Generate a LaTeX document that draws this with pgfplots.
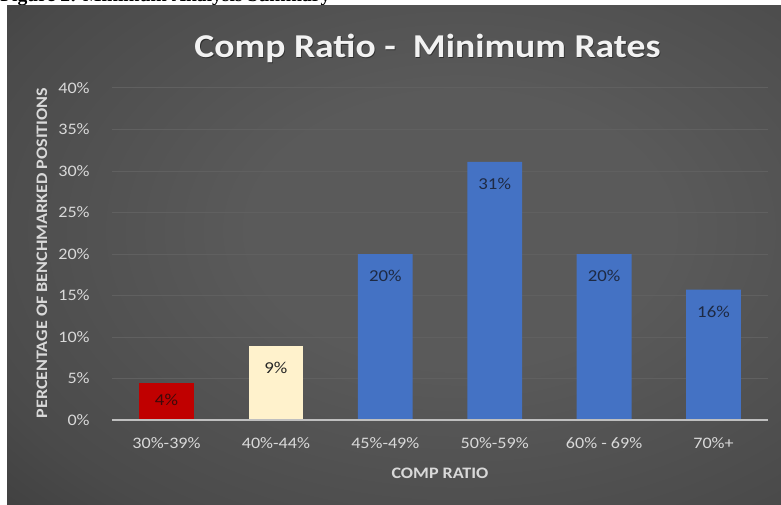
\documentclass[border=0pt]{standalone}
\usepackage{pgfplots}
\pgfplotsset{compat=1.18}
\usepackage{fontspec}
\setmainfont{Carlito}
\newfontfamily\serifb{Liberation Serif}
\definecolor{bgc}{HTML}{5A5A5A}
\definecolor{bgm}{HTML}{4A4A4A}
\definecolor{bge}{HTML}{262626}
\definecolor{gridc}{HTML}{606060}
\definecolor{zeroc}{HTML}{BFBFBF}
\definecolor{tickc}{HTML}{D9D9D9}
\definecolor{labc}{HTML}{D9D9D9}
\definecolor{titlec}{HTML}{F2F2F2}
\definecolor{redc}{HTML}{C00000}
\definecolor{creamc}{HTML}{FFF2CC}
\definecolor{bluec}{HTML}{4472C4}
\definecolor{redlab}{HTML}{3D0A0A}
\definecolor{creamlab}{HTML}{262626}
\definecolor{bluelab}{HTML}{1E2A44}
\pgfdeclareradialshading{bgshade}{\pgfpoint{0bp}{0bp}}{color(0bp)=(bgc); color(10bp)=(bgc); color(25bp)=(bgm); color(45bp)=(bge); color(50bp)=(bge)}
\begin{document}
\begin{tikzpicture}
\useasboundingbox (0,0) rectangle (585.75pt,378pt);
\begin{scope}[x=0.75pt,y=0.75pt]
\node[anchor=base west, inner sep=0, font=\serifb\bfseries\fontsize{14.7}{16}\selectfont] at (0,502.5) {Figure 2: Minimum Analysis Summary};
\begin{scope}
\clip (7,0) rectangle (781,498);
\shade[shading=bgshade] (-60,-66) rectangle (980,614);
\end{scope}
\end{scope}
\begin{axis}[
  at={(83.85pt,63pt)}, anchor=south west,
  scale only axis, width=492.3pt, height=249pt,
  xmin=-0.5, xmax=5.5, ymin=0, ymax=40,
  axis line style={draw=none},
  major tick length=0pt,
  /pgf/number format/assume math mode=true,
  ytick={0,5,...,40},
  yticklabel={\pgfmathprintnumber{\tick}\%},
  xtick={0,1,2,3,4,5},
  xticklabels={30\%-39\%, 40\%-44\%, 45\%-49\%, 50\%-59\%, 60\% - 69\%, 70\%+},
  ymajorgrids, grid style={draw=gridc, line width=0.75pt},
  tick label style={font=\fontsize{12}{14}\selectfont, text=tickc, xscale=1.13, inner sep=0pt},
  yticklabel style={anchor=east, xshift=-14.5pt},
  xticklabel style={anchor=north, yshift=-13pt},
  ybar, bar width=41.1pt, bar shift=0pt,
  nodes near coords={\pgfmathprintnumber[fixed,precision=0]{\pgfplotspointmeta}\%},
  every node near coord/.append style={anchor=center, yshift=-16.5pt, font=\fontsize{12.5}{14}\selectfont, xscale=1.13},
  clip=false,
]
\addplot[fill=redc, draw=none, every node near coord/.append style={text=redlab, yshift=4pt}] coordinates {(0,4.46)};
\addplot[fill=creamc, draw=none, every node near coord/.append style={text=creamlab}] coordinates {(1,8.9)};
\addplot[fill=bluec, draw=none, every node near coord/.append style={text=bluelab}] coordinates {(2,20.0) (3,31.1) (4,20.0) (5,15.7)};
\draw[color=zeroc, line width=1.5pt] (axis cs:-0.5,0) -- (axis cs:5.5,0);
\end{axis}
\begin{scope}[x=0.75pt,y=0.75pt]
\node[anchor=base, text=black, opacity=0.45, font=\bfseries\fontsize{25}{30}\selectfont, xscale=1.13] at (428.3,445.2) {Comp Ratio -\ \ Minimum Rates};
\node[anchor=base, text=titlec, font=\bfseries\fontsize{25}{30}\selectfont, xscale=1.13] at (427.5,446) {Comp Ratio -\ \ Minimum Rates};
\node[rotate=90, xscale=1.13, text=labc, font=\bfseries\fontsize{12}{14}\selectfont] at (42,251) {PERCENTAGE OF BENCHMARKED POSITIONS};
\node[xscale=1.13, text=labc, font=\bfseries\fontsize{12}{14}\selectfont] at (440,30.5) {COMP RATIO};
\end{scope}
\end{tikzpicture}
\end{document}
